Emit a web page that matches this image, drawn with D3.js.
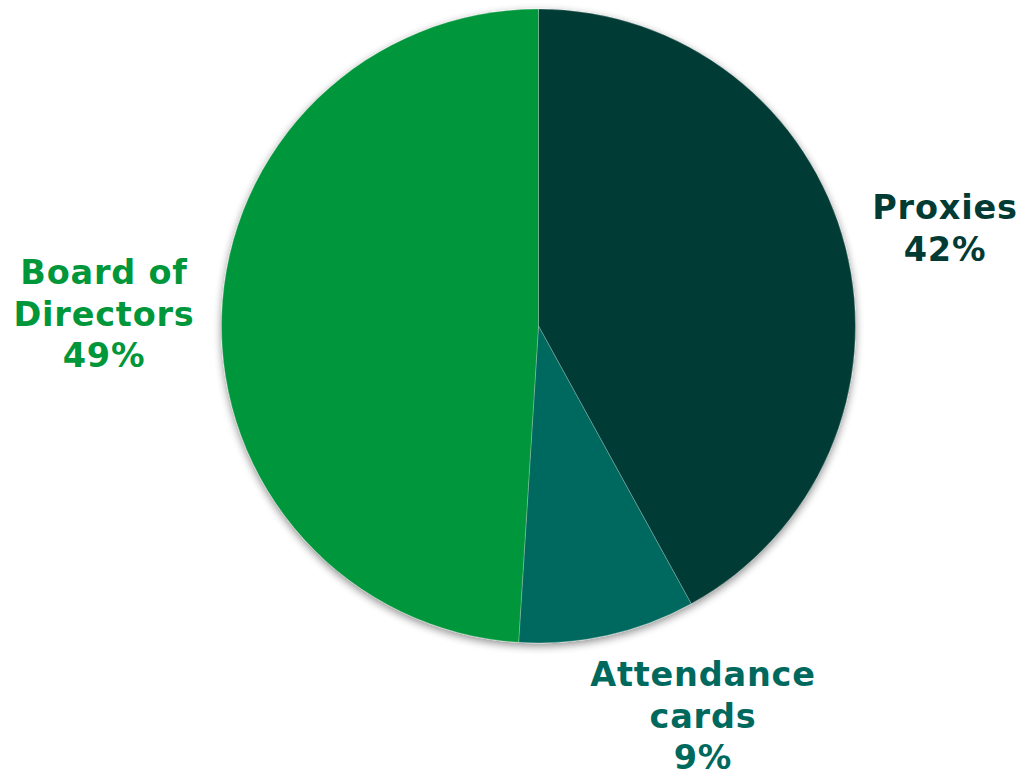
<!DOCTYPE html>
<html>
<head>
<meta charset="utf-8">
<script src="https://cdn.jsdelivr.net/npm/d3@7"></script>
<style>
  html, body { margin: 0; padding: 0; background: #ffffff; }
  svg { display: block; }
</style>
</head>
<body>
<svg id="chart" width="1023" height="776"></svg>
<script>
const categories = ["Proxies", "Attendance cards", "Board of Directors"];
const values = [42, 9, 49];
const labelLines = [["Proxies", "42%"], ["Attendance", "cards", "9%"], ["Board of", "Directors", "49%"]];
const colors = ["#013b34", "#00695e", "#00963a"];

// layout (not data)
const cx = 538.5, cy = 326, radius = 317;
const labelPos = [[945, 219], [703, 686], [104, 284]];
const lineHeight = 41.5;
const fontSize = 33.5;

const svg = d3.select("#chart");
const defs = svg.append("defs");
const f = defs.append("filter").attr("id", "shadow").attr("x", "-10%").attr("y", "-10%").attr("width", "120%").attr("height", "120%");
f.append("feGaussianBlur").attr("in", "SourceAlpha").attr("stdDeviation", 4);
f.append("feOffset").attr("dx", 0).attr("dy", 3).attr("result", "ob");
f.append("feComponentTransfer").append("feFuncA").attr("type", "linear").attr("slope", 0.45);
const m = f.append("feMerge");
m.append("feMergeNode");
m.append("feMergeNode").attr("in", "SourceGraphic");

const pie = d3.pie().sort(null).value(d => d);
const arcs = pie(values);
const arc = d3.arc().innerRadius(0).outerRadius(radius);
const color = d3.scaleOrdinal().domain(categories).range(colors);

const g = svg.append("g").attr("transform", `translate(${cx},${cy})`);
const shadowG = g.append("g").attr("filter", "url(#shadow)");
shadowG.selectAll("path.slice")
  .data(arcs)
  .join("path")
  .attr("class", "slice")
  .attr("d", arc)
  .attr("fill", (d, i) => color(categories[i]))
  .attr("stroke", "#ffffff")
  .attr("stroke-opacity", 0.3)
  .attr("stroke-width", 0.8);

const labels = svg.append("g")
  .selectAll("text")
  .data(categories)
  .join("text")
  .attr("x", (d, i) => labelPos[i][0])
  .attr("y", (d, i) => labelPos[i][1])
  .attr("text-anchor", "middle")
  .attr("font-family", "'DejaVu Sans', Verdana, sans-serif")
  .attr("font-weight", "bold")
  .attr("font-size", fontSize)
  .attr("letter-spacing", 0.8)
  .attr("fill", (d, i) => color(d));

labels.each(function(d, i) {
  const t = d3.select(this);
  labelLines[i].forEach((line, j) => {
    t.append("tspan")
      .attr("x", labelPos[i][0])
      .attr("dy", j === 0 ? 0 : lineHeight)
      .text(line);
  });
});
</script>
</body>
</html>
